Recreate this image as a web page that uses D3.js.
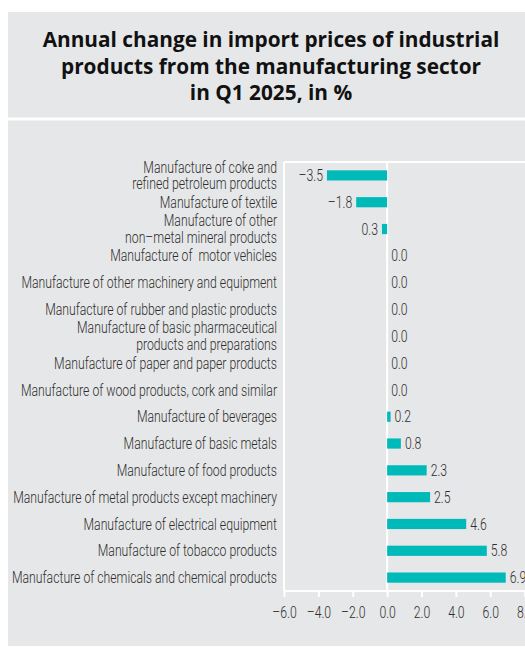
<!DOCTYPE html>
<html>
<head>
<meta charset="utf-8">
<script src="https://cdn.jsdelivr.net/npm/d3@7"></script>
<style>
  body { margin: 0; background: #fff; }
  svg { display: block; }
  text { white-space: pre; }
</style>
</head>
<body>
<div id="chart"></div>
<script>
// categories, top to bottom (lines split where the label wraps)
var categories = [
    ["Manufacture of coke and", "refined petroleum products"],
    ["Manufacture of textile"],
    ["Manufacture of other", "non–metal mineral products"],
    ["Manufacture of  motor vehicles"],
    ["Manufacture of other machinery and equipment"],
    ["Manufacture of rubber and plastic products"],
    ["Manufacture of basic pharmaceutical", "products and preparations"],
    ["Manufacture of paper and paper products"],
    ["Manufacture of wood products, cork and similar"],
    ["Manufacture of beverages"],
    ["Manufacture of basic metals"],
    ["Manufacture of food products"],
    ["Manufacture of metal products except machinery"],
    ["Manufacture of electrical equipment"],
    ["Manufacture of tobacco products"],
    ["Manufacture of chemicals and chemical products"]
];
var values = [-3.5, -1.8, -0.3, 0.0, 0.0, 0.0, 0.0, 0.0, 0.0, 0.2, 0.8, 2.3, 2.5, 4.6, 5.8, 6.9];
// labels as printed on the chart (the third one is printed without its sign)
var valueLabels = ["–3.5", "–1.8", "0.3", "0.0", "0.0", "0.0", "0.0", "0.0", "0.0", "0.2", "0.8", "2.3", "2.5", "4.6", "5.8", "6.9"];
var tickValues = [-6, -4, -2, 0, 2, 4, 6, 8];
var titleLines = ["Annual change in import prices of industrial", "products from the manufacturing sector", "in Q1 2025, in %"];

var width = 525, height = 647;
var panelColor = "#e6e7e8";
var barColor = "#00b9b9";
var textColor = "#2e2e2e";
var labelFont = "Roboto, sans-serif";
var labelSize = 16;
var longestLabelWidth = 265; // the widest category label, used to fake a condensed face

var svg = d3.select("#chart").append("svg")
    .attr("width", width)
    .attr("height", height);

// title panel
svg.append("rect")
    .attr("x", 8).attr("y", 12)
    .attr("width", width - 8).attr("height", 105.5)
    .attr("fill", panelColor);

svg.append("g").selectAll("text")
    .data(titleLines)
    .enter().append("text")
    .attr("x", 271)
    .attr("y", function (d, i) { return 47 + i * 26.5; })
    .attr("text-anchor", "middle")
    .attr("font-family", "'Open Sans', sans-serif")
    .attr("font-weight", "bold")
    .attr("font-size", 20.8)
    .attr("fill", "#111")
    .text(function (d) { return d; });

// chart panel
svg.append("rect")
    .attr("x", 8).attr("y", 120.5)
    .attr("width", width - 8)
    .attr("height", height - 120.5 - 1)
    .attr("fill", panelColor);

var x = d3.scaleLinear()
    .domain([-6, 10])
    .range([284, 559]);

var y = d3.scaleBand()
    .domain(d3.range(categories.length))
    .range([162, 591])
    .paddingInner(0.62)
    .paddingOuter(0.31);

// plot frame: top and left white lines, zero line
var frame = svg.append("g").attr("stroke", "#fff").attr("stroke-width", 2);
frame.append("line")
    .attr("x1", x(-6)).attr("x2", width)
    .attr("y1", 162).attr("y2", 162);
frame.append("line")
    .attr("x1", x(-6)).attr("x2", x(-6))
    .attr("y1", 162).attr("y2", 591);
frame.append("line")
    .attr("x1", x(0)).attr("x2", x(0))
    .attr("y1", 162).attr("y2", 591);

// bars
svg.append("g").selectAll("rect")
    .data(values)
    .enter().append("rect")
    .attr("x", function (d) { return x(Math.min(0, d)); })
    .attr("y", function (d, i) { return y(i); })
    .attr("width", function (d) { return Math.abs(x(d) - x(0)); })
    .attr("height", y.bandwidth())
    .attr("fill", barColor);

// value labels
svg.append("g").selectAll("text")
    .data(values)
    .enter().append("text")
    .attr("class", "narrow")
    .attr("x", function (d) { return d < 0 ? x(d) - 4 : x(d) + 4; })
    .attr("y", function (d, i) { return y(i) + y.bandwidth() / 2; })
    .attr("dy", "0.35em")
    .attr("text-anchor", function (d) { return d < 0 ? "end" : "start"; })
    .attr("font-family", labelFont)
    .attr("font-weight", 300)
    .attr("font-size", labelSize)
    .attr("fill", textColor)
    .text(function (d, i) { return valueLabels[i]; });

// category labels
var catLabels = svg.append("g").selectAll("text")
    .data(categories)
    .enter().append("text")
    .attr("x", 277)
    .attr("y", function (d, i) { return y(i) + y.bandwidth() / 2; })
    .attr("text-anchor", "end")
    .attr("font-family", labelFont)
    .attr("font-weight", 300)
    .attr("font-size", labelSize)
    .attr("fill", textColor);

catLabels.selectAll("tspan")
    .data(function (d) { return d; })
    .enter().append("tspan")
    .attr("class", "narrow")
    .attr("x", 277)
    .attr("dy", function (d, i, nodes) {
        var n = nodes.length;
        if (i == 0) return (0.35 - (n - 1) * 0.53) + "em";
        return "1.06em";
    })
    .text(function (d) { return d; });

// x axis
var xAxis = d3.axisBottom(x)
    .tickValues(tickValues)
    .tickSize(6)
    .tickFormat(function (d) { return d3.format(".1f")(d).replace("−", "–").replace("-", "–"); });

var ax = svg.append("g")
    .attr("transform", "translate(0,591)")
    .call(xAxis);

ax.select(".domain")
    .attr("d", "M" + x(-6) + ",0H" + width)
    .attr("stroke", "#fff")
    .attr("stroke-width", 2);
ax.selectAll(".tick line")
    .attr("stroke", "#fff")
    .attr("stroke-width", 2);
ax.selectAll(".tick text")
    .attr("class", "narrow")
    .attr("y", 16)
    .attr("font-family", labelFont)
    .attr("font-weight", 300)
    .attr("font-size", labelSize)
    .attr("fill", textColor);

// no condensed face is installed, so squeeze every label by the same factor
var widest = d3.max(catLabels.selectAll("tspan").nodes(), function (n) { return n.getComputedTextLength(); });
var squeeze = longestLabelWidth / widest;
svg.selectAll(".narrow").each(function () {
    var w = this.getComputedTextLength();
    d3.select(this)
        .attr("textLength", w * squeeze)
        .attr("lengthAdjust", "spacingAndGlyphs");
});
</script>
</body>
</html>
